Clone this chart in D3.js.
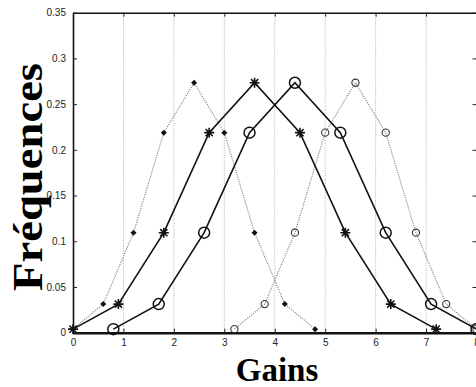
<!DOCTYPE html>
<html>
<head>
<meta charset="utf-8">
<script src="https://cdn.jsdelivr.net/npm/d3@7"></script>
<style>
  body { margin: 0; background: #fff; }
  svg { display: block; }
</style>
</head>
<body>
<svg id="chart" width="476" height="387"></svg>
<script>
// binomial(8, 0.5) frequencies, shared by all four curves
const freqs = [0.0039, 0.0313, 0.1094, 0.2188, 0.2734, 0.2188, 0.1094, 0.0313, 0.0039];

const gainsA = [0, 0.6, 1.2, 1.8, 2.4, 3.0, 3.6, 4.2, 4.8];   // dotted, dots
const gainsB = [0, 0.9, 1.8, 2.7, 3.6, 4.5, 5.4, 6.3, 7.2];   // solid, stars
const gainsC = [0.8, 1.7, 2.6, 3.5, 4.4, 5.3, 6.2, 7.1, 8.0]; // solid, big circles
const gainsD = [3.2, 3.8, 4.4, 5.0, 5.6, 6.2, 6.8, 7.4, 8.0]; // dotted, small circles

const xTicks = [0, 1, 2, 3, 4, 5, 6, 7, 8];
const yTicks = [0, 0.05, 0.1, 0.15, 0.2, 0.25, 0.3, 0.35];

const svg = d3.select("#chart");
const x = d3.scaleLinear().domain([0, 8]).range([73, 476.5]);
const y = d3.scaleLinear().domain([0, 0.35]).range([332.7, 12.7]);

// vertical dotted grid
svg.append("g")
  .selectAll("line")
  .data(xTicks.slice(1))
  .join("line")
  .attr("x1", d => x(d)).attr("x2", d => x(d))
  .attr("y1", y(0.35)).attr("y2", y(0))
  .attr("stroke", "#a8a8a8")
  .attr("stroke-width", 1)
  .attr("stroke-dasharray", "1,1.5");

const fontAxis = "Liberation Sans, Arial, sans-serif";

// axes (ticks pointing inward)
const axBottom = svg.append("g")
  .attr("transform", `translate(0,${y(0)})`)
  .call(d3.axisBottom(x).tickValues(xTicks).tickSizeInner(-4).tickSizeOuter(0).tickPadding(8).tickFormat(d3.format("d")));
const axTop = svg.append("g")
  .attr("transform", `translate(0,${y(0.35)})`)
  .call(d3.axisTop(x).tickValues(xTicks).tickSizeInner(-4).tickSizeOuter(0).tickFormat(""));
const axLeft = svg.append("g")
  .attr("transform", `translate(${x(0)},0)`)
  .call(d3.axisLeft(y).tickValues(yTicks).tickSizeInner(-4).tickSizeOuter(0).tickPadding(7)
    .tickFormat(d => d === 0 ? "0" : d3.format("")(+d.toFixed(2))));
const axRight = svg.append("g")
  .attr("transform", `translate(${x(8)},0)`)
  .call(d3.axisRight(y).tickValues(yTicks).tickSizeInner(-4).tickSizeOuter(0).tickFormat(""));

[axBottom, axTop, axLeft, axRight].forEach(g => {
  g.selectAll("text").attr("font-family", fontAxis).attr("font-size", 10).attr("fill", "#222");
  g.selectAll("line").attr("stroke", "#222");
  g.select(".domain").attr("stroke", "#111").attr("stroke-width", 1.6);
});
axBottom.select(".domain").attr("stroke-width", 2.4);
axBottom.selectAll("text").attr("dy", "0.55em");

const line = d3.line().x(d => x(d[0])).y(d => y(d[1]));
const pairs = g => g.map((v, i) => [v, freqs[i]]);

// dotted curves
[gainsA, gainsD].forEach(g => {
  svg.append("path")
    .datum(pairs(g))
    .attr("d", line)
    .attr("fill", "none")
    .attr("stroke", "#8a8a8a")
    .attr("stroke-width", 1.2)
    .attr("stroke-dasharray", "1.2,1.2");
});
// solid curves
[gainsB, gainsC].forEach(g => {
  svg.append("path")
    .datum(pairs(g))
    .attr("d", line)
    .attr("fill", "none")
    .attr("stroke", "#111")
    .attr("stroke-width", 1.6);
});

// markers
svg.append("g").selectAll("path")
  .data(pairs(gainsA))
  .join("path")
  .attr("transform", d => `translate(${x(d[0])},${y(d[1])}) rotate(45)`)
  .attr("d", d3.symbol(d3.symbolSquare, 18))
  .attr("fill", "#111");

const star = "M-5,0L5,0M0,-5L0,5M-3.6,-3.6L3.6,3.6M-3.6,3.6L3.6,-3.6";
svg.append("g").selectAll("path")
  .data(pairs(gainsB))
  .join("path")
  .attr("transform", d => `translate(${x(d[0])},${y(d[1])})`)
  .attr("d", star)
  .attr("stroke", "#111")
  .attr("stroke-width", 1.6);

svg.append("g").selectAll("circle")
  .data(pairs(gainsC))
  .join("circle")
  .attr("cx", d => x(d[0])).attr("cy", d => y(d[1]))
  .attr("r", 5.5)
  .attr("fill", "none")
  .attr("stroke", "#111")
  .attr("stroke-width", 1.5);

svg.append("g").selectAll("circle")
  .data(pairs(gainsD))
  .join("circle")
  .attr("cx", d => x(d[0])).attr("cy", d => y(d[1]))
  .attr("r", 3.6)
  .attr("fill", "none")
  .attr("stroke", "#333")
  .attr("stroke-width", 1.1);

// axis titles
svg.append("text")
  .attr("x", 277).attr("y", 381)
  .attr("text-anchor", "middle")
  .attr("font-family", "Liberation Serif, Times New Roman, serif")
  .attr("font-weight", "bold")
  .attr("font-size", 33)
  .text("Gains");

svg.append("text")
  .attr("transform", "translate(42,177) rotate(-90)")
  .attr("text-anchor", "middle")
  .attr("font-family", "Liberation Serif, Times New Roman, serif")
  .attr("font-weight", "bold")
  .attr("font-size", 42)
  .attr("textLength", 228)
  .attr("lengthAdjust", "spacingAndGlyphs")
  .text("Fréquences");
</script>
</body>
</html>
